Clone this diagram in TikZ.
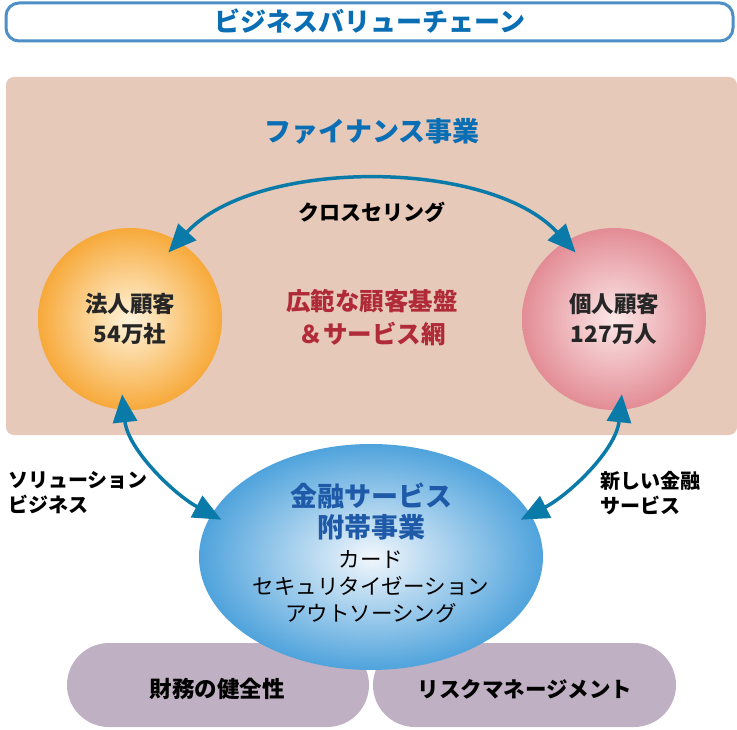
\documentclass[tikz,border=0pt]{standalone}
\usepackage{fontspec}
\setmainfont{Noto Sans CJK JP}
\usetikzlibrary{arrows.meta,shapes.geometric,calc}
\definecolor{titleblue}{HTML}{0A6EB4}
\definecolor{titleframe}{HTML}{4D8FC6}
\definecolor{peach}{HTML}{E6C9B9}
\definecolor{arrowblue}{HTML}{0A7AA8}
\definecolor{darkred}{HTML}{B02A38}
\definecolor{pill}{HTML}{C0B0C3}
\definecolor{orangeout}{HTML}{F7A93A}
\definecolor{orangein}{HTML}{FFF4DC}
\definecolor{pinkout}{HTML}{E38C95}
\definecolor{pinkin}{HTML}{FBE8E8}
\definecolor{blueout}{HTML}{4FA3DC}
\definecolor{bluein}{HTML}{F2F7FC}
\definecolor{headblue}{HTML}{1E5AA8}
\tikzset{
  conn/.style={draw=arrowblue, line width=3.5pt, {Triangle[length=28pt,width=24pt]}-{Triangle[length=28pt,width=24pt]}},
  customer/.style={ellipse, minimum width=184pt, minimum height=182pt, inner sep=0pt, align=center, font=\fontsize{22.5}{30}\selectfont\bfseries, text=black!85},
  pillbox/.style={fill=pill, rounded corners=42pt},
  sidelabel/.style={align=left, anchor=west, font=\fontsize{20}{25}\selectfont\bfseries, inner sep=0pt}
}
\begin{document}
\begin{tikzpicture}[x=1pt,y=-1pt]
\useasboundingbox (0,0) rectangle (737,730);
% title
\draw[titleframe, line width=3pt, rounded corners=13pt, fill=white] (6,3) rectangle (733,41);
\node[text=titleblue, font=\fontsize{26}{28}\selectfont\bfseries] (title) at (370,21) {ビジネスバリューチェーン};
% peach area
\fill[peach, rounded corners=8pt] (6,77) rectangle (737,435);
\node[text=titleblue, font=\fontsize{27}{30}\selectfont\bfseries] (fin) at (372,131) {ファイナンス事業};
\node[font=\fontsize{21}{24}\selectfont\bfseries] (cross) at (372,212) {クロスセリング};
% customers
\node[customer, inner color=orangein, outer color=orangeout] (corp) at (130,319) {法人顧客\\54万社};
\node[customer, inner color=pinkin, outer color=pinkout] (indiv) at (614,319) {個人顧客\\127万人};
\node[text=darkred, align=center, font=\fontsize{24.5}{33}\selectfont\bfseries] (base) at (372,318) {広範な顧客基盤\\＆サービス網};
% pills
\fill[pillbox] (67,643) rectangle (369,727);
\fill[pillbox] (373,643) rectangle (676,727);
\node[font=\fontsize{22.5}{24}\selectfont\bfseries] (health) at (217,689) {財務の健全性};
\node[font=\fontsize{21.5}{24}\selectfont\bfseries] (risk) at (525,689) {リスクマネージメント};
% central ellipse
\node[ellipse, minimum width=344pt, minimum height=226pt, inner sep=0pt, inner color=bluein, outer color=blueout] (fs) at (371,557) {};
\node[text=headblue, align=center, font=\fontsize{27}{31}\selectfont\bfseries] (fstitle) at (371,512) {金融サービス\\附帯事業};
\node[align=center, font=\fontsize{21.5}{27}\selectfont] (fslist) at (371,587) {カード\\セキュリタイゼーション\\アウトソーシング};
% side labels
\node[sidelabel] (sol) at (8,493) {ソリューション\\ビジネス};
\node[sidelabel] (newfs) at (600,493) {新しい金融\\サービス};
% connectors
\draw[conn] ($(corp)!0.84!(corp.60)$) .. controls (255,158) and (489,158) .. ($(indiv)!0.84!(indiv.120)$);
\draw[conn] ($(corp)!0.83!(corp.-96)$) .. controls (128,450) and (175,495) .. ($(fs)!0.93!(fs.166)$);
\draw[conn] ($(indiv)!0.83!(indiv.-84)$) .. controls (616,450) and (569,495) .. ($(fs)!0.93!(fs.14)$);
\end{tikzpicture}
\end{document}
